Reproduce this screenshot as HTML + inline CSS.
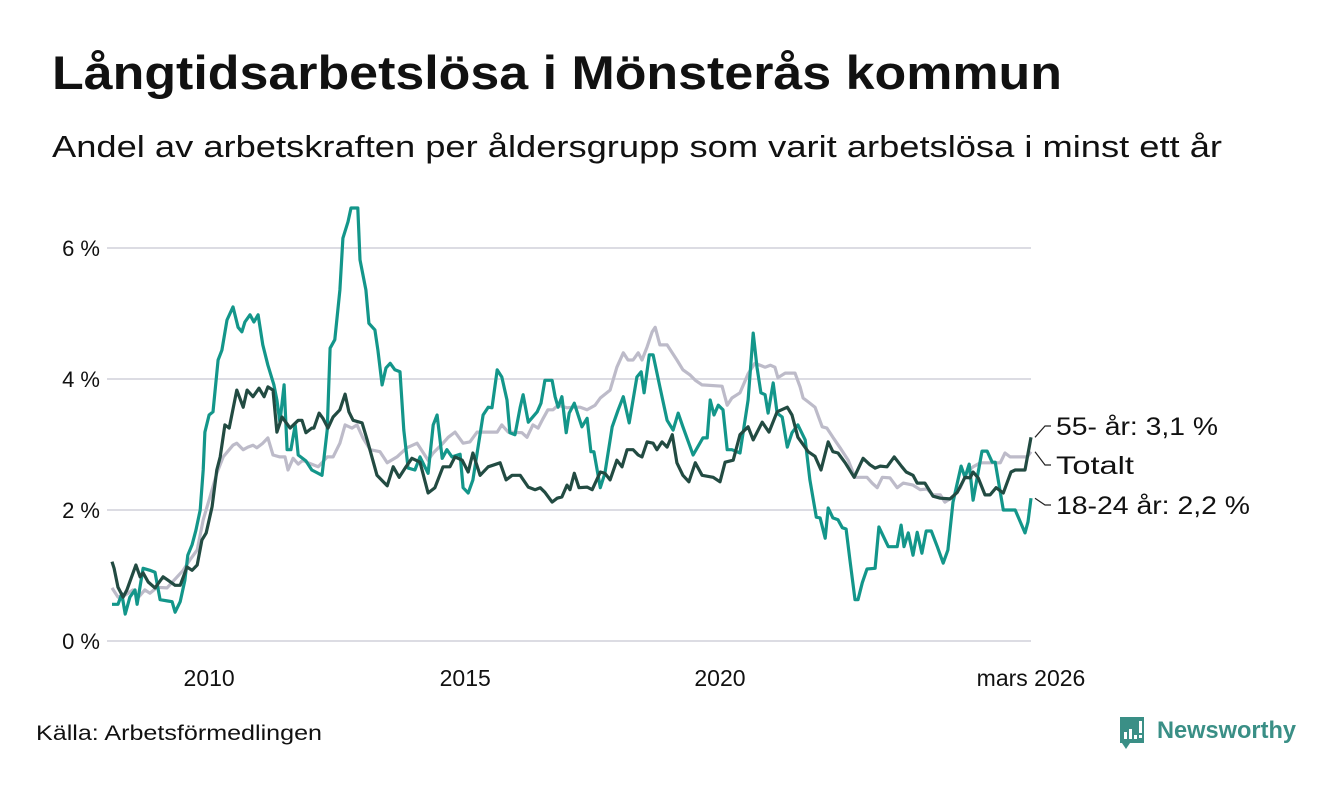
<!DOCTYPE html>
<html><head><meta charset="utf-8">
<style>
html,body{margin:0;padding:0;background:#fff;}
body{width:1340px;height:780px;overflow:hidden;font-family:"Liberation Sans",sans-serif;}
</style></head>
<body>
<svg id="chart" width="1340" height="780" viewBox="0 0 1340 780" xmlns="http://www.w3.org/2000/svg" font-family="Liberation Sans, sans-serif">
<text x="52" y="89" font-size="47" font-weight="bold" fill="#111" textLength="1010" lengthAdjust="spacingAndGlyphs">Långtidsarbetslösa i Mönsterås kommun</text>
<text x="52" y="157" font-size="31" fill="#111" textLength="1170" lengthAdjust="spacingAndGlyphs">Andel av arbetskraften per åldersgrupp som varit arbetslösa i minst ett år</text>
<g id="grid"></g>
<g id="yaxis"></g>
<g id="xaxis"></g>
<g id="series"></g>
<g id="labels"></g>
<text x="36" y="740" font-size="21" fill="#111" textLength="286" lengthAdjust="spacingAndGlyphs">Källa: Arbetsförmedlingen</text>
<g>
<path d="M1120 717 h24 v26 h-14 l-4 6 l-4 -6 h-2 z" fill="#3a8f86"/>
<rect x="1124" y="732" width="3" height="7" fill="#fff"/><rect x="1129" y="729" width="3" height="10" fill="#fff"/><rect x="1134" y="735" width="3" height="4" fill="#fff"/><rect x="1139" y="721" width="3" height="12" fill="#fff"/><rect x="1139" y="735" width="3" height="3" fill="#fff"/>
<text x="1157" y="738" font-size="24" font-weight="bold" fill="#3a8f86" textLength="139" lengthAdjust="spacingAndGlyphs">Newsworthy</text>
</g>
</svg>
<script>
const yTicks = [0, 2, 4, 6];
const yTickLabels = ["0 %", "2 %", "4 %", "6 %"];
const xTickMonths = [22.8, 82.9, 142.7, 215.7];
const xTickLabels = ["2010", "2015", "2020", "mars 2026"];

const youngMonths = [0,1.4,2.3,3.1,4.2,5.4,5.9,7.3,8.9,10.1,11.3,13.1,14.1,14.8,16,17.1,17.8,18.8,19.7,20.7,21.4,21.8,22.8,23.7,24.9,25.8,27,28.4,29.6,30.5,31.2,32.4,33.3,34.3,35.4,36.6,38,38.7,39.4,40.4,41.1,42,43,43.7,45.5,46.9,49.3,50.5,51.2,52.3,53.5,54.2,55.4,56.1,57.7,58.2,59.6,60.3,61.7,62.4,63.4,64.3,65.3,66.4,67.6,68.5,69.5,71.1,72.3,74.2,75.4,76.3,77.5,78.6,79.8,81.7,82.4,83.6,84.7,87.1,88.3,89.2,90.4,91.5,92.7,93.4,94.6,95.8,96.5,97.7,99.8,100.7,101.6,103.3,104,104.7,105.6,106.6,107.3,108.5,110.3,111.5,112.4,113.1,114.6,115.7,117.4,118.8,120,121.4,123.2,124.2,124.9,126.1,127,128.6,130.3,131.7,132.9,134,136.4,138.7,139.7,140.4,141.3,142.3,143.4,144.4,145.5,147.4,149.3,150.5,151.4,152.3,153.3,154,155.2,156.1,157.3,158.5,159.6,161,162.7,163.8,165.3,166.2,167.4,168.1,169.2,170.4,171.4,172.3,173.2,174.4,175.1,176.1,177.2,179.1,180,182.2,184.3,185.2,185.9,186.9,188,189,190.1,191.1,192.3,193.7,195.1,196.2,197.4,199.3,200.2,201.2,202.1,204.2,205.4,206.6,207.3,209.2,212,214.3,215,215.7];
const youngValues = [0.56,0.56,0.72,0.41,0.67,0.78,0.56,1.11,1.08,1.05,0.63,0.61,0.6,0.44,0.6,0.93,1.31,1.47,1.69,2,2.61,3.19,3.45,3.5,4.29,4.44,4.9,5.1,4.79,4.72,4.87,4.98,4.87,4.98,4.52,4.21,3.91,3.68,3.34,3.91,2.92,2.92,3.3,2.84,2.75,2.61,2.53,3.22,4.47,4.6,5.36,6.15,6.4,6.61,6.61,5.82,5.36,4.85,4.75,4.44,3.91,4.17,4.24,4.14,4.11,3.22,2.64,2.61,2.81,2.56,3.3,3.45,2.79,2.92,2.81,2.85,2.34,2.26,2.46,3.45,3.57,3.56,4.14,4.03,3.68,3.18,3.15,3.57,3.76,3.34,3.5,3.63,3.98,3.98,3.73,3.57,3.73,3.18,3.48,3.63,3.27,3.4,2.89,2.89,2.34,2.56,3.27,3.53,3.73,3.33,4.03,4.11,3.79,4.37,4.37,3.88,3.37,3.22,3.48,3.27,2.84,3.1,3.1,3.68,3.45,3.6,3.53,2.92,2.92,2.87,3.68,4.7,4.18,3.79,3.76,3.48,3.94,3.48,3.42,2.96,3.18,3.3,3.07,2.46,1.89,1.88,1.57,2.03,1.88,1.85,1.73,1.71,1.24,0.63,0.63,0.89,1.1,1.11,1.74,1.44,1.44,1.77,1.44,1.65,1.31,1.66,1.34,1.68,1.68,1.44,1.19,1.39,2.12,2.67,2.5,2.7,2.15,2.9,2.9,2.73,2.73,2,2,1.65,1.82,2.18];

const olderMonths = [0,0.5,1.4,2.6,3.5,5.6,6.6,7.3,8.5,10.1,12,13.1,14.8,16,17.6,18.8,20,21.1,22.1,23.5,24.6,25.4,26.5,27.5,29.3,30.8,31.7,33.1,34.5,35.7,36.6,37.8,38.7,39.9,41.8,43.7,44.6,45.5,46.9,47.4,48.6,49.5,50.7,51.9,53.5,54.7,55.6,56.6,58.7,59.9,62.2,64.6,66,67.4,69,70.4,72.3,74.2,75.8,77.7,79.3,80.5,82.2,83.6,84.7,86.4,88.3,91.1,92.5,93.9,95.8,97.7,99.3,100.5,101.6,103.3,104.5,105.6,106.8,107.5,108.5,109.6,111.5,112.7,114.6,115.7,116.9,118.5,119.7,120.9,122.3,123.5,124.4,125.6,127,127.9,129.1,130.3,131.5,132.6,134,135.4,136.9,138.5,141.1,142.7,143.9,145.8,147.4,149.3,150.5,152.6,154.2,156.1,158.5,159.6,161,163.4,165,166.4,168.1,169.2,170.4,172.1,174.2,176.3,177.9,179.1,180.3,181.9,183.6,185.4,186.4,188,189,190.8,192.7,194.4,196.7,198.4,200.2,201.4,202.1,203.3,204.9,206.1,207.5,209.2,211,212,214.3,215.7];
const olderValues = [1.21,1.11,0.82,0.67,0.78,1.16,0.98,1.04,0.9,0.81,0.98,0.93,0.85,0.85,1.13,1.08,1.16,1.54,1.65,2.05,2.61,2.81,3.3,3.25,3.83,3.57,3.83,3.73,3.86,3.73,3.88,3.83,3.19,3.42,3.25,3.37,3.37,3.18,3.25,3.25,3.48,3.4,3.25,3.42,3.53,3.77,3.5,3.37,3.33,3.07,2.53,2.37,2.66,2.5,2.66,2.79,2.73,2.26,2.34,2.66,2.66,2.81,2.76,2.58,2.87,2.53,2.66,2.72,2.46,2.53,2.53,2.35,2.31,2.34,2.27,2.12,2.18,2.2,2.38,2.31,2.56,2.34,2.35,2.31,2.58,2.56,2.46,2.76,2.66,2.92,2.92,2.84,2.81,3.04,3.02,2.92,3.04,2.96,3.15,2.72,2.53,2.43,2.72,2.53,2.5,2.43,2.73,2.76,3.15,3.27,3.07,3.34,3.19,3.5,3.57,3.45,3.11,2.89,2.82,2.61,3.04,2.89,2.87,2.72,2.5,2.79,2.69,2.64,2.67,2.66,2.81,2.66,2.58,2.53,2.41,2.41,2.21,2.18,2.17,2.27,2.5,2.49,2.58,2.49,2.23,2.23,2.34,2.26,2.58,2.61,2.61,3.11];

const totalMonths = [0,1.4,3.1,4.9,6.1,7.7,8.9,10.6,12.9,15.3,16.7,18.3,20,21.4,23,24.6,26.1,28.4,29.3,30.8,31.9,33.1,34,35.4,36.6,37.8,39.4,40.6,41.3,42.5,43.7,44.8,46,48.4,50.5,51.9,53.5,54.7,56.3,57.5,58.9,60.6,62.9,64.6,66.9,69.2,71.6,74.2,75.4,77.7,78.9,80.5,82.4,84,85.7,90.4,91.5,93,96.2,97.4,98.8,100,101.2,102.3,103.5,104.7,106.8,108.2,109.9,111.5,113.4,114.6,116.9,117.6,118.5,120,121.1,122.3,123.5,124.4,125.6,126.8,127.5,128.6,130.3,132.6,134,135.7,136.9,138.5,143.2,144.4,145.5,147.4,149.3,150.9,153.3,154.5,155.6,156.3,158,160.3,161.5,162.2,163.4,165,166.7,167.8,169.2,170.9,172.8,174.4,177.2,178.4,179.6,180.8,182.6,184.3,185.7,188,189.7,191.3,192.7,194.4,195.5,197.4,199.1,200.7,202.1,203.8,208.5,209.6,210.8,214.8,215.7];
const totalValues = [0.81,0.67,0.7,0.78,0.66,0.78,0.73,0.82,0.81,0.98,1.08,1.24,1.39,1.85,2.2,2.56,2.81,2.99,3.02,2.92,2.96,2.99,2.95,3.02,3.1,2.84,2.81,2.81,2.61,2.79,2.7,2.76,2.72,2.66,2.81,2.81,3.02,3.3,3.25,3.3,3.1,2.92,2.89,2.72,2.81,2.95,3.02,2.76,2.87,3.02,3.11,3.19,3.02,3.04,3.19,3.19,3.3,3.19,3.18,3.11,3.3,3.25,3.4,3.53,3.53,3.6,3.56,3.57,3.57,3.53,3.6,3.71,3.83,3.98,4.18,4.4,4.29,4.29,4.4,4.29,4.49,4.72,4.79,4.52,4.52,4.29,4.14,4.06,3.98,3.91,3.89,3.6,3.71,3.79,4.08,4.24,4.18,4.21,4.18,4.02,4.09,4.09,3.88,3.71,3.65,3.57,3.27,3.25,3.11,2.95,2.76,2.5,2.5,2.41,2.34,2.5,2.49,2.34,2.41,2.38,2.31,2.32,2.23,2.23,2.12,2.2,2.34,2.58,2.66,2.72,2.72,2.87,2.81,2.81,2.89];

const X0 = 112, X1 = 1031, Y0 = 641, Y1 = 248;
const xMax = 215.7, yMax = 6;
function xs(m){ return X0 + (m / xMax) * (X1 - X0); }
function ys(v){ return Y0 - (v / yMax) * (Y0 - Y1); }
const NS = "http://www.w3.org/2000/svg";
function mk(tag, parent){ const e = document.createElementNS(NS, tag); parent.appendChild(e); return e; }

const grid = document.getElementById('grid');
const yax = document.getElementById('yaxis');
yTicks.forEach((t, i) => {
  const l = mk('line', grid);
  
  
  l.setAttribute('x1', 107); l.setAttribute('x2', X1);
  l.setAttribute('y1', ys(t)); l.setAttribute('y2', ys(t));
  l.setAttribute('stroke', '#dcdce3'); l.setAttribute('stroke-width', 2);
  const tx = mk('text', yax);
  
  
  tx.setAttribute('x', 100); tx.setAttribute('y', ys(t) + 8);
  tx.setAttribute('text-anchor', 'end'); tx.setAttribute('font-size', 22); tx.setAttribute('fill', '#111');
  tx.textContent = yTickLabels[i];
});
const xax = document.getElementById('xaxis');
xTickMonths.forEach((m, i) => {
  const tx = mk('text', xax);
  
  
  tx.setAttribute('x', xs(m)); tx.setAttribute('y', 686);
  tx.setAttribute('text-anchor', 'middle'); tx.setAttribute('font-size', 23); tx.setAttribute('fill', '#111');
  tx.textContent = xTickLabels[i];
});

const ser = document.getElementById('series');
function drawLine(months, vals, color, name){
  const p = mk('polyline', ser);
  
  
  p.setAttribute('points', months.map((m, i) => xs(m).toFixed(1) + ',' + ys(vals[i]).toFixed(1)).join(' '));
  p.setAttribute('fill', 'none'); p.setAttribute('stroke', color);
  p.setAttribute('stroke-width', 3.2); p.setAttribute('stroke-linejoin', 'round');
}
drawLine(totalMonths, totalValues, '#bdbbc9', 'line-totalt');
drawLine(youngMonths, youngValues, '#13968a', 'line-18-24');
drawLine(olderMonths, olderValues, '#224b42', 'line-55-plus');

const lab = document.getElementById('labels');
function endLabel(months, vals, ty, text, name, w){
  const ex = xs(months[months.length - 1]), ey = ys(vals[vals.length - 1]);
  const l = mk('polyline', lab);
  
  
  l.setAttribute('points', (ex + 4) + ',' + ey + ' ' + (ex + 14) + ',' + ty + ' ' + (ex + 20) + ',' + ty);
  l.setAttribute('fill', 'none'); l.setAttribute('stroke', '#222'); l.setAttribute('stroke-width', 1.2);
  const t = mk('text', lab);
  
  
  t.setAttribute('x', ex + 25); t.setAttribute('y', ty + 9);
  t.setAttribute('font-size', 25); t.setAttribute('fill', '#111');
  t.setAttribute('textLength', w); t.setAttribute('lengthAdjust', 'spacingAndGlyphs');
  t.textContent = text;
}
endLabel(olderMonths, olderValues, 426, '55- år: 3,1 %', 'label-55-plus', 162);
endLabel(totalMonths, totalValues, 465, 'Totalt', 'label-totalt', 78);
endLabel(youngMonths, youngValues, 505, '18-24 år: 2,2 %', 'label-18-24', 194);
</script>
</body></html>
